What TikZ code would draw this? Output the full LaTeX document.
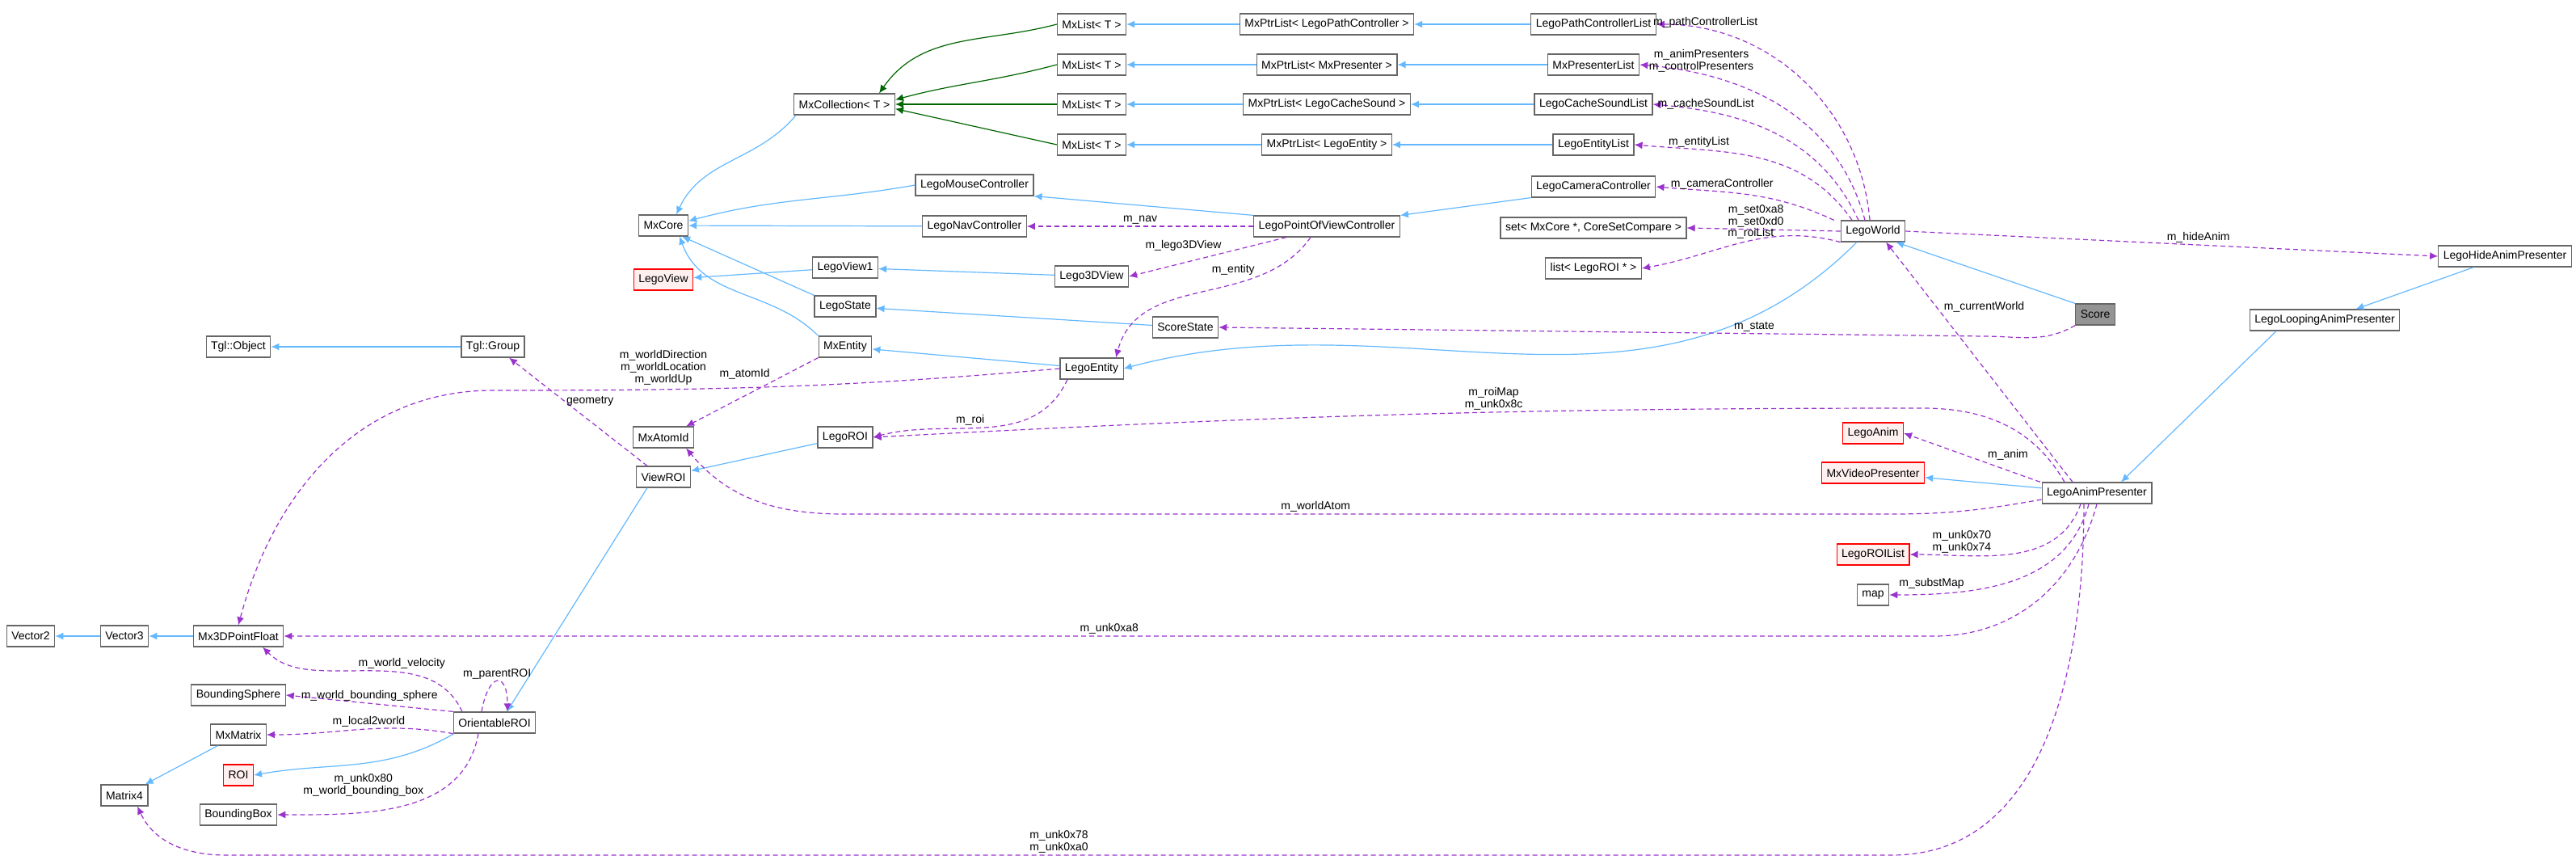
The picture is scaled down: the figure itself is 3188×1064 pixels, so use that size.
\documentclass[tikz,border=0pt]{standalone}
\usepackage{fontspec}
\setmainfont{Liberation Sans}
\usetikzlibrary{arrows.meta}
\definecolor{inh}{HTML}{63B8FF}
\definecolor{grn}{HTML}{006400}
\definecolor{usg}{HTML}{9A32CD}
\definecolor{bord}{HTML}{666666}
\tikzset{
 cls/.style={draw=bord,fill=white,line width=0.6pt,font=\fontsize{7}{8}\selectfont,minimum height=13pt,inner xsep=3pt,inner ysep=1pt},
 redc/.style={cls,draw=red,fill=red!6},
 inhe/.style={draw=inh,line width=0.6pt,-{Latex[length=5pt,width=4.5pt]}},
 tmpl/.style={draw=grn,line width=0.6pt,-{Latex[length=5pt,width=4.5pt]}},
 use/.style={draw=usg,line width=0.6pt,dash pattern=on 3pt off 2pt,-{Latex[length=5pt,width=4.5pt]}},
 lbl/.style={font=\fontsize{7}{7.5}\selectfont,align=center,inner sep=1pt}
}
\begin{document}
\begin{tikzpicture}[x=0.5pt,y=0.5pt]
\useasboundingbox (0,0) rectangle (3188,-1064);
% nodes
\node[cls] (coll) at (1045,-129) {MxCollection< T >};
\node[cls] (core) at (821,-279) {MxCore};
\node[redc] (lview) at (821,-346) {LegoView};
\node[cls] (lview1) at (1046,-331) {LegoView1};
\node[cls] (lstate) at (1046,-379) {LegoState};
\node[cls] (mxent) at (1046,-429) {MxEntity};
\node[cls] (tobj) at (295,-429) {Tgl::Object};
\node[cls] (tgrp) at (610,-429) {Tgl::Group};
\node[cls] (atom) at (821,-541) {MxAtomId};
\node[cls] (lroi) at (1046,-541) {LegoROI};
\node[cls] (vroi) at (821,-590) {ViewROI};
\node[cls] (v2) at (38,-787) {Vector2};
\node[cls] (v3) at (154,-787) {Vector3};
\node[cls] (p3d) at (295,-787) {Mx3DPointFloat};
\node[cls] (bsph) at (295,-860) {BoundingSphere};
\node[cls] (mxmat) at (295,-909) {MxMatrix};
\node[redc] (roi) at (295,-959) {ROI};
\node[cls] (m4) at (154,-984) {Matrix4};
\node[cls] (bbox) at (295,-1008) {BoundingBox};
\node[cls] (oroi) at (612,-894) {OrientableROI};
\node[cls] (l1) at (1351,-30) {MxList< T >};
\node[cls] (l2) at (1351,-80) {MxList< T >};
\node[cls] (l3) at (1351,-129) {MxList< T >};
\node[cls] (l4) at (1351,-179) {MxList< T >};
\node[cls] (p1) at (1642,-30) {MxPtrList< LegoPathController >};
\node[cls] (p2) at (1642,-80) {MxPtrList< MxPresenter >};
\node[cls] (p3) at (1642,-129) {MxPtrList< LegoCacheSound >};
\node[cls] (p4) at (1642,-179) {MxPtrList< LegoEntity >};
\node[cls] (c1) at (1972,-30) {LegoPathControllerList};
\node[cls] (c2) at (1972,-80) {MxPresenterList};
\node[cls] (c3) at (1972,-129) {LegoCacheSoundList};
\node[cls] (c4) at (1972,-179) {LegoEntityList};
\node[cls] (cam) at (1972,-231) {LegoCameraController};
\node[cls] (set) at (1972,-282) {set< MxCore *, CoreSetCompare >};
\node[cls] (lst) at (1972,-332) {list< LegoROI * >};
\node[cls] (mouse) at (1206,-229) {LegoMouseController};
\node[cls] (nav) at (1206,-280) {LegoNavController};
\node[cls] (povc) at (1642,-280) {LegoPointOfViewController};
\node[cls] (l3d) at (1351,-342) {Lego3DView};
\node[cls] (sst) at (1467,-405) {ScoreState};
\node[cls] (lent) at (1351,-456) {LegoEntity};
\node[cls] (world) at (2318,-286) {LegoWorld};
\node[cls] (hide) at (3100,-317) {LegoHideAnimPresenter};
\node[cls,fill=bord!70] (score) at (2593,-389) {Score};
\node[cls] (loop) at (2877,-396) {LegoLoopingAnimPresenter};
\node[redc] (lanim) at (2318,-536) {LegoAnim};
\node[redc] (vpres) at (2318,-585) {MxVideoPresenter};
\node[cls] (apres) at (2595,-610) {LegoAnimPresenter};
\node[redc] (roil) at (2318,-686) {LegoROIList};
\node[cls] (map) at (2318,-736) {map};
% inheritance
\draw[inhe] ([xshift=-30]coll.south) to[out=-130,in=65] ([xshift=8]core.north);
\foreach \a in {1,2,3,4}{\draw[inhe] (p\a) -- (l\a); \draw[inhe] (c\a) -- (p\a);}
\draw[tmpl] (l1.west) to[out=195,in=55] ([xshift=-10]coll.north east);
\draw[tmpl] (l2.west) to[out=195,in=15] ([yshift=-4]coll.north east);
\draw[tmpl] (l3) -- (coll);
\draw[tmpl] (l4.west) -- ([yshift=4]coll.south east);
\draw[inhe] (mouse.west) to[out=190,in=15] ([yshift=-4]core.north east);
\draw[inhe] (nav) -- (core);
\draw[inhe] (povc.north west) -- (mouse.south east);
\draw[inhe] (cam.south west) -- (povc.north east);
\draw[inhe] (lview1) -- (lview);
\draw[inhe] (l3d) -- (lview1);
\draw[inhe] (lstate.north west) -- ([xshift=-4]core.south east);
\draw[inhe] (sst) -- (lstate);
\draw[inhe] (mxent.north west) to[out=135,in=-70] ([xshift=10]core.south);
\draw[inhe] (lent) -- (mxent);
\draw[inhe] ([xshift=-10]world.south) to[out=-135,in=15] (lent.east);
\draw[inhe] (score.north west) -- ([xshift=-6]world.south east);
\draw[inhe] (tgrp) -- (tobj);
\draw[inhe] (lroi) -- (vroi);
\draw[inhe] ([xshift=-10]vroi.south) -- ([xshift=-18]oroi.north east);
\draw[inhe] ([xshift=-25]oroi.south) to[out=-150,in=10] (roi.east);
\draw[inhe] (v3) -- (v2);
\draw[inhe] (p3d) -- (v3);
\draw[inhe] (mxmat) -- (m4);
\draw[inhe] (hide) -- (loop);
\draw[inhe] ([xshift=-30]loop.south) -- ([xshift=15]apres.north);
\draw[inhe] (apres) -- (vpres);
% usage from LegoWorld
\draw[use] ([xshift=-2]world.north) to[out=95,in=0] node[lbl,pos=0.85,above] {m\_pathControllerList} (c1.east);
\draw[use] ([xshift=-5]world.north) to[out=105,in=-5] node[lbl,pos=0.8,above] {m\_animPresenters\\m\_controlPresenters} (c2.east);
\draw[use] ([xshift=-9]world.north) to[out=115,in=-5] node[lbl,pos=0.8,above] {m\_cacheSoundList} (c3.east);
\draw[use] ([xshift=-13]world.north) to[out=125,in=-5] node[lbl,pos=0.75,above] {m\_entityList} (c4.east);
\draw[use] ([xshift=-4]world.north west) to[out=155,in=-5] node[lbl,pos=0.65,above] {m\_cameraController} (cam.east);
\draw[use] (world.west) -- node[lbl,above,pos=0.55] {m\_set0xa8\\m\_set0xd0} (set.east);
\draw[use] (world.south west) to[out=165,in=10] node[lbl,above,pos=0.45] {m\_roiList} (lst.east);
\draw[use] (world.east) -- node[lbl,above,pos=0.55] {m\_hideAnim} (hide.west);
% POVC
\draw[use] (povc) -- node[lbl,above] {m\_nav} (nav);
\draw[use] ([xshift=-25]povc.south) -- node[lbl,above left,pos=0.4] {m\_lego3DView} (l3d.east);
\draw[use] ([xshift=-10]povc.south) to[out=-125,in=75] node[lbl,left,pos=0.2,xshift=-10] {m\_entity} ([xshift=15]lent.north);
\draw[use] (score.south west) to[out=-150,in=0] (2455,-416) -- node[lbl,above,pos=0.3] {m\_state} (sst.east);
% LegoEntity
\draw[use] ([xshift=-15]lent.south) to[out=-115,in=15] node[lbl,above left,pos=0.5] {m\_roi} (lroi.east);
\draw[use] (lent.west) to[out=185,in=0] (610,-483) to[out=180,in=75] (p3d.north);
\node[lbl] at (821,-455) {m\_worldDirection\\m\_worldLocation\\m\_worldUp};
\draw[use] (mxent.south west) -- node[lbl,above left,pos=0.35] {m\_atomId} ([xshift=-5]atom.north east);
\draw[use] ([xshift=-10]vroi.north) -- node[lbl,right,pos=0.6] {geometry} ([xshift=10]tgrp.south);
% LegoAnimPresenter
\draw[use] ([xshift=-20]apres.north) to[out=120,in=0] (2379,-505) to[out=180,in=3] node[lbl,above,pos=0.4] {m\_roiMap\\m\_unk0x8c} (lroi.east);
\draw[use] ([xshift=-35]apres.north) -- node[lbl,above right,pos=0.4] {m\_anim} (lanim.east);
\draw[use] ([yshift=-4]apres.west) to[out=190,in=0] (2341,-636) -- node[lbl,above,pos=0.55] {m\_worldAtom} (1045,-636) to[out=180,in=-50] ([xshift=-5]atom.south east);
\draw[use] ([xshift=-10]apres.south) to[out=-110,in=0] node[lbl,above left,pos=0.6] {m\_unk0x70\\m\_unk0x74} (roil.east);
\draw[use] ([xshift=-5]apres.south) to[out=-105,in=0] node[lbl,above left,pos=0.7] {m\_substMap} (map.east);
\draw[use] (apres.south) to[out=-105,in=0] (2394,-787) -- node[lbl,above] {m\_unk0xa8} (p3d.east);
\draw[use] ([xshift=-8]apres.south) to[out=-90,in=0] (2341,-1058) -- node[lbl,above] {m\_unk0x78\\m\_unk0xa0} (280,-1058) to[out=180,in=-65] ([xshift=8]m4.south);
\draw[use] ([xshift=-15]apres.north) -- node[lbl,above right,pos=0.7] {m\_currentWorld} ([xshift=8]world.south);
% OrientableROI
\draw[use] ([xshift=-20]oroi.north) to[out=115,in=0] (421,-830) to[out=180,in=-45] node[lbl,above right,pos=0,xshift=10] {m\_world\_velocity} ([xshift=15]p3d.south);
\draw[use] (oroi.north west) -- node[lbl,above,pos=0.5] {m\_world\_bounding\_sphere} (bsph.east);
\draw[use] (oroi.south west) to[out=170,in=0] node[lbl,above,pos=0.45] {m\_local2world} (mxmat.east);
\draw[use] ([xshift=-10]oroi.south) to[out=-100,in=0] node[lbl,above left,pos=0.4] {m\_unk0x80\\m\_world\_bounding\_box} (bbox.east);
\draw[use] ([xshift=-8]oroi.north) to[out=80,in=90,looseness=4] node[lbl,above] {m\_parentROI} ([xshift=8]oroi.north);
\end{tikzpicture}
\end{document}
